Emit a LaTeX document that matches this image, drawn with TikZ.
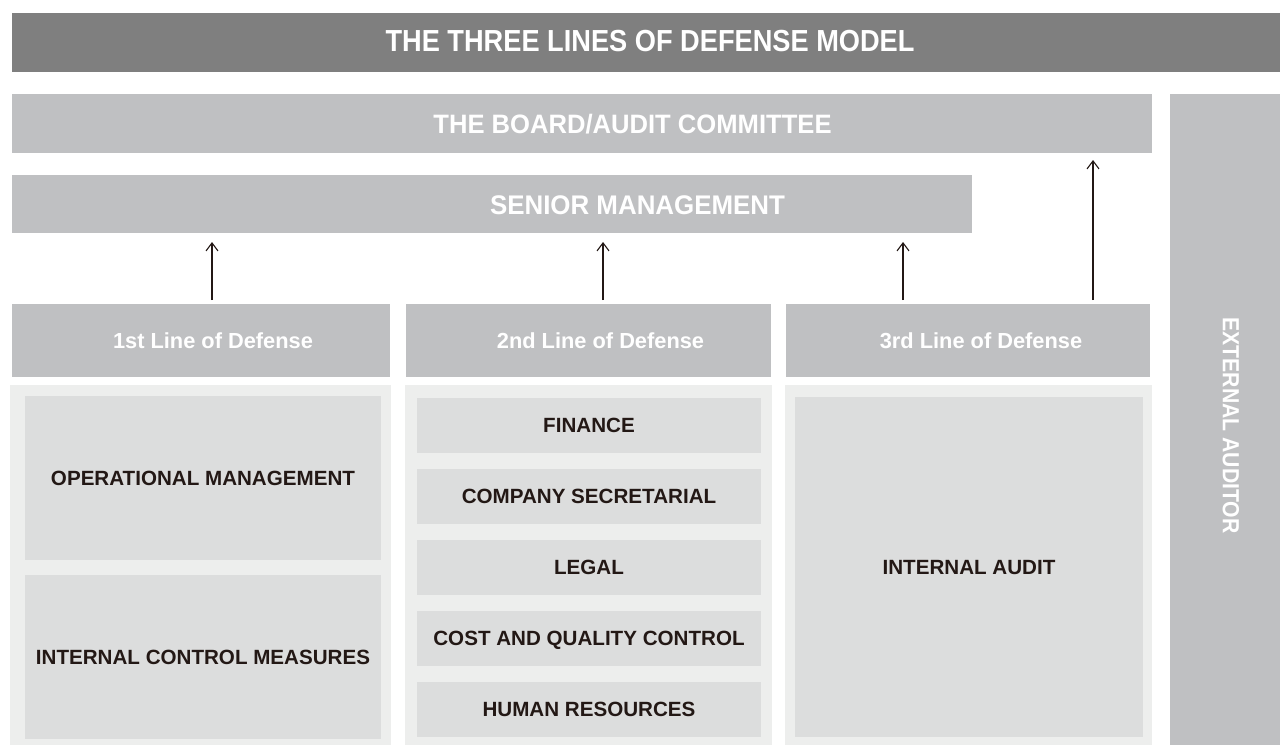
\documentclass[tikz,border=0pt]{standalone}
\usepackage{fontspec}
\setmainfont{Liberation Sans}
\usetikzlibrary{arrows.meta,calc}
\definecolor{titlegray}{HTML}{7F7F7F}
\definecolor{bargray}{HTML}{BFC0C2}
\definecolor{panelgray}{HTML}{EDEEED}
\definecolor{innergray}{HTML}{DCDDDD}
\definecolor{textdark}{HTML}{231815}
\begin{document}
\begin{tikzpicture}[x=1pt,y=-1pt,
  box/.style={anchor=north west, inner sep=0pt, outer sep=0pt, draw=none},
  titlebox/.style={box, fill=titlegray},
  barbox/.style={box, fill=bargray},
  panelbox/.style={box, fill=panelgray},
  innerbox/.style={box, fill=innergray},
  whitetxt/.style={inner sep=0pt, anchor=base, text=white, font=\bfseries},
  darktxt/.style={inner sep=0pt, anchor=base, text=textdark, font=\fontsize{20.6}{24}\selectfont\bfseries},
  uparrow/.style={draw=textdark, line width=1.2pt, -{Straight Barb[length=8pt,width=12pt,line width=1.1pt]}}
]
\useasboundingbox (0,0) rectangle (1280,745);

% top bars
\node[titlebox, minimum width=1268pt, minimum height=59pt] (title) at (12,13) {};
\node[barbox, minimum width=1140pt, minimum height=59pt] (board) at (12,94) {};
\node[barbox, minimum width=960pt, minimum height=58pt] (senior) at (12,175) {};
\node[barbox, minimum width=110pt, minimum height=651pt] (ext) at (1170,94) {};

% line headers
\node[barbox, minimum width=378pt, minimum height=73pt] (h1) at (12,304) {};
\node[barbox, minimum width=365pt, minimum height=73pt] (h2) at (406,304) {};
\node[barbox, minimum width=364pt, minimum height=73pt] (h3) at (786,304) {};

% panels
\node[panelbox, minimum width=381pt, minimum height=360pt] (p1) at (10,385) {};
\node[panelbox, minimum width=367pt, minimum height=360pt] (p2) at (405,385) {};
\node[panelbox, minimum width=367pt, minimum height=360pt] (p3) at (785,385) {};

% inner boxes
\node[innerbox, minimum width=356pt, minimum height=164pt] (op) at (25,396) {};
\node[innerbox, minimum width=356pt, minimum height=164pt] (icm) at (25,575) {};
\node[innerbox, minimum width=344pt, minimum height=55pt] (fin) at (417,398) {};
\node[innerbox, minimum width=344pt, minimum height=55pt] (sec) at (417,469) {};
\node[innerbox, minimum width=344pt, minimum height=55pt] (leg) at (417,540) {};
\node[innerbox, minimum width=344pt, minimum height=55pt] (cqc) at (417,611) {};
\node[innerbox, minimum width=344pt, minimum height=55pt] (hr) at (417,682) {};
\node[innerbox, minimum width=348pt, minimum height=340pt] (ia) at (795,397) {};

% texts
\node[whitetxt, font=\fontsize{27.2}{32}\selectfont\bfseries] (titletxt) at (650,51.7) {\scalebox{1}[1.12]{THE THREE LINES OF DEFENSE MODEL}};
\node[whitetxt, font=\fontsize{25.6}{30}\selectfont\bfseries] (boardtxt) at (632.5,133) {\scalebox{1}[1.04]{THE BOARD/AUDIT COMMITTEE}};
\node[whitetxt, font=\fontsize{25.9}{30}\selectfont\bfseries] (seniortxt) at (637.5,214) {\scalebox{1}[1.04]{SENIOR MANAGEMENT}};
\node[whitetxt, font=\fontsize{21.8}{26}\selectfont\bfseries] (h1txt) at (213,348) {1st Line of Defense};
\node[whitetxt, font=\fontsize{21.8}{26}\selectfont\bfseries] (h2txt) at (600.5,348) {2nd Line of Defense};
\node[whitetxt, font=\fontsize{21.8}{26}\selectfont\bfseries] (h3txt) at (981,348) {3rd Line of Defense};
\node[inner sep=0pt, text=white, rotate=-90, font=\fontsize{21.2}{25}\selectfont\bfseries] (exttxt) at (1231,425.5) {\scalebox{1}[1.1]{EXTERNAL AUDITOR}};

\node[darktxt] (optxt) at (203,485.4) {OPERATIONAL MANAGEMENT};
\node[darktxt] (icmtxt) at (203,664.4) {INTERNAL CONTROL MEASURES};
\node[darktxt] (fintxt) at (589,432.5) {FINANCE};
\node[darktxt] (sectxt) at (589,503.5) {COMPANY SECRETARIAL};
\node[darktxt] (legtxt) at (589,574.5) {LEGAL};
\node[darktxt] (cqctxt) at (589,645.5) {COST AND QUALITY CONTROL};
\node[darktxt] (hrtxt) at (589,716.5) {HUMAN RESOURCES};
\node[darktxt] (iatxt) at (969,574) {INTERNAL AUDIT};

% arrows
\coordinate (a1) at (212,300);
\coordinate (a2) at (603,300);
\coordinate (a3) at (903,300);
\coordinate (a4) at (1093,300);
\draw[uparrow] (a1) -- ([yshift=-9pt]a1 |- senior.south);
\draw[uparrow] (a2) -- ([yshift=-9pt]a2 |- senior.south);
\draw[uparrow] (a3) -- ([yshift=-9pt]a3 |- senior.south);
\draw[uparrow] (a4) -- ([yshift=-7pt]a4 |- board.south);
\end{tikzpicture}
\end{document}
